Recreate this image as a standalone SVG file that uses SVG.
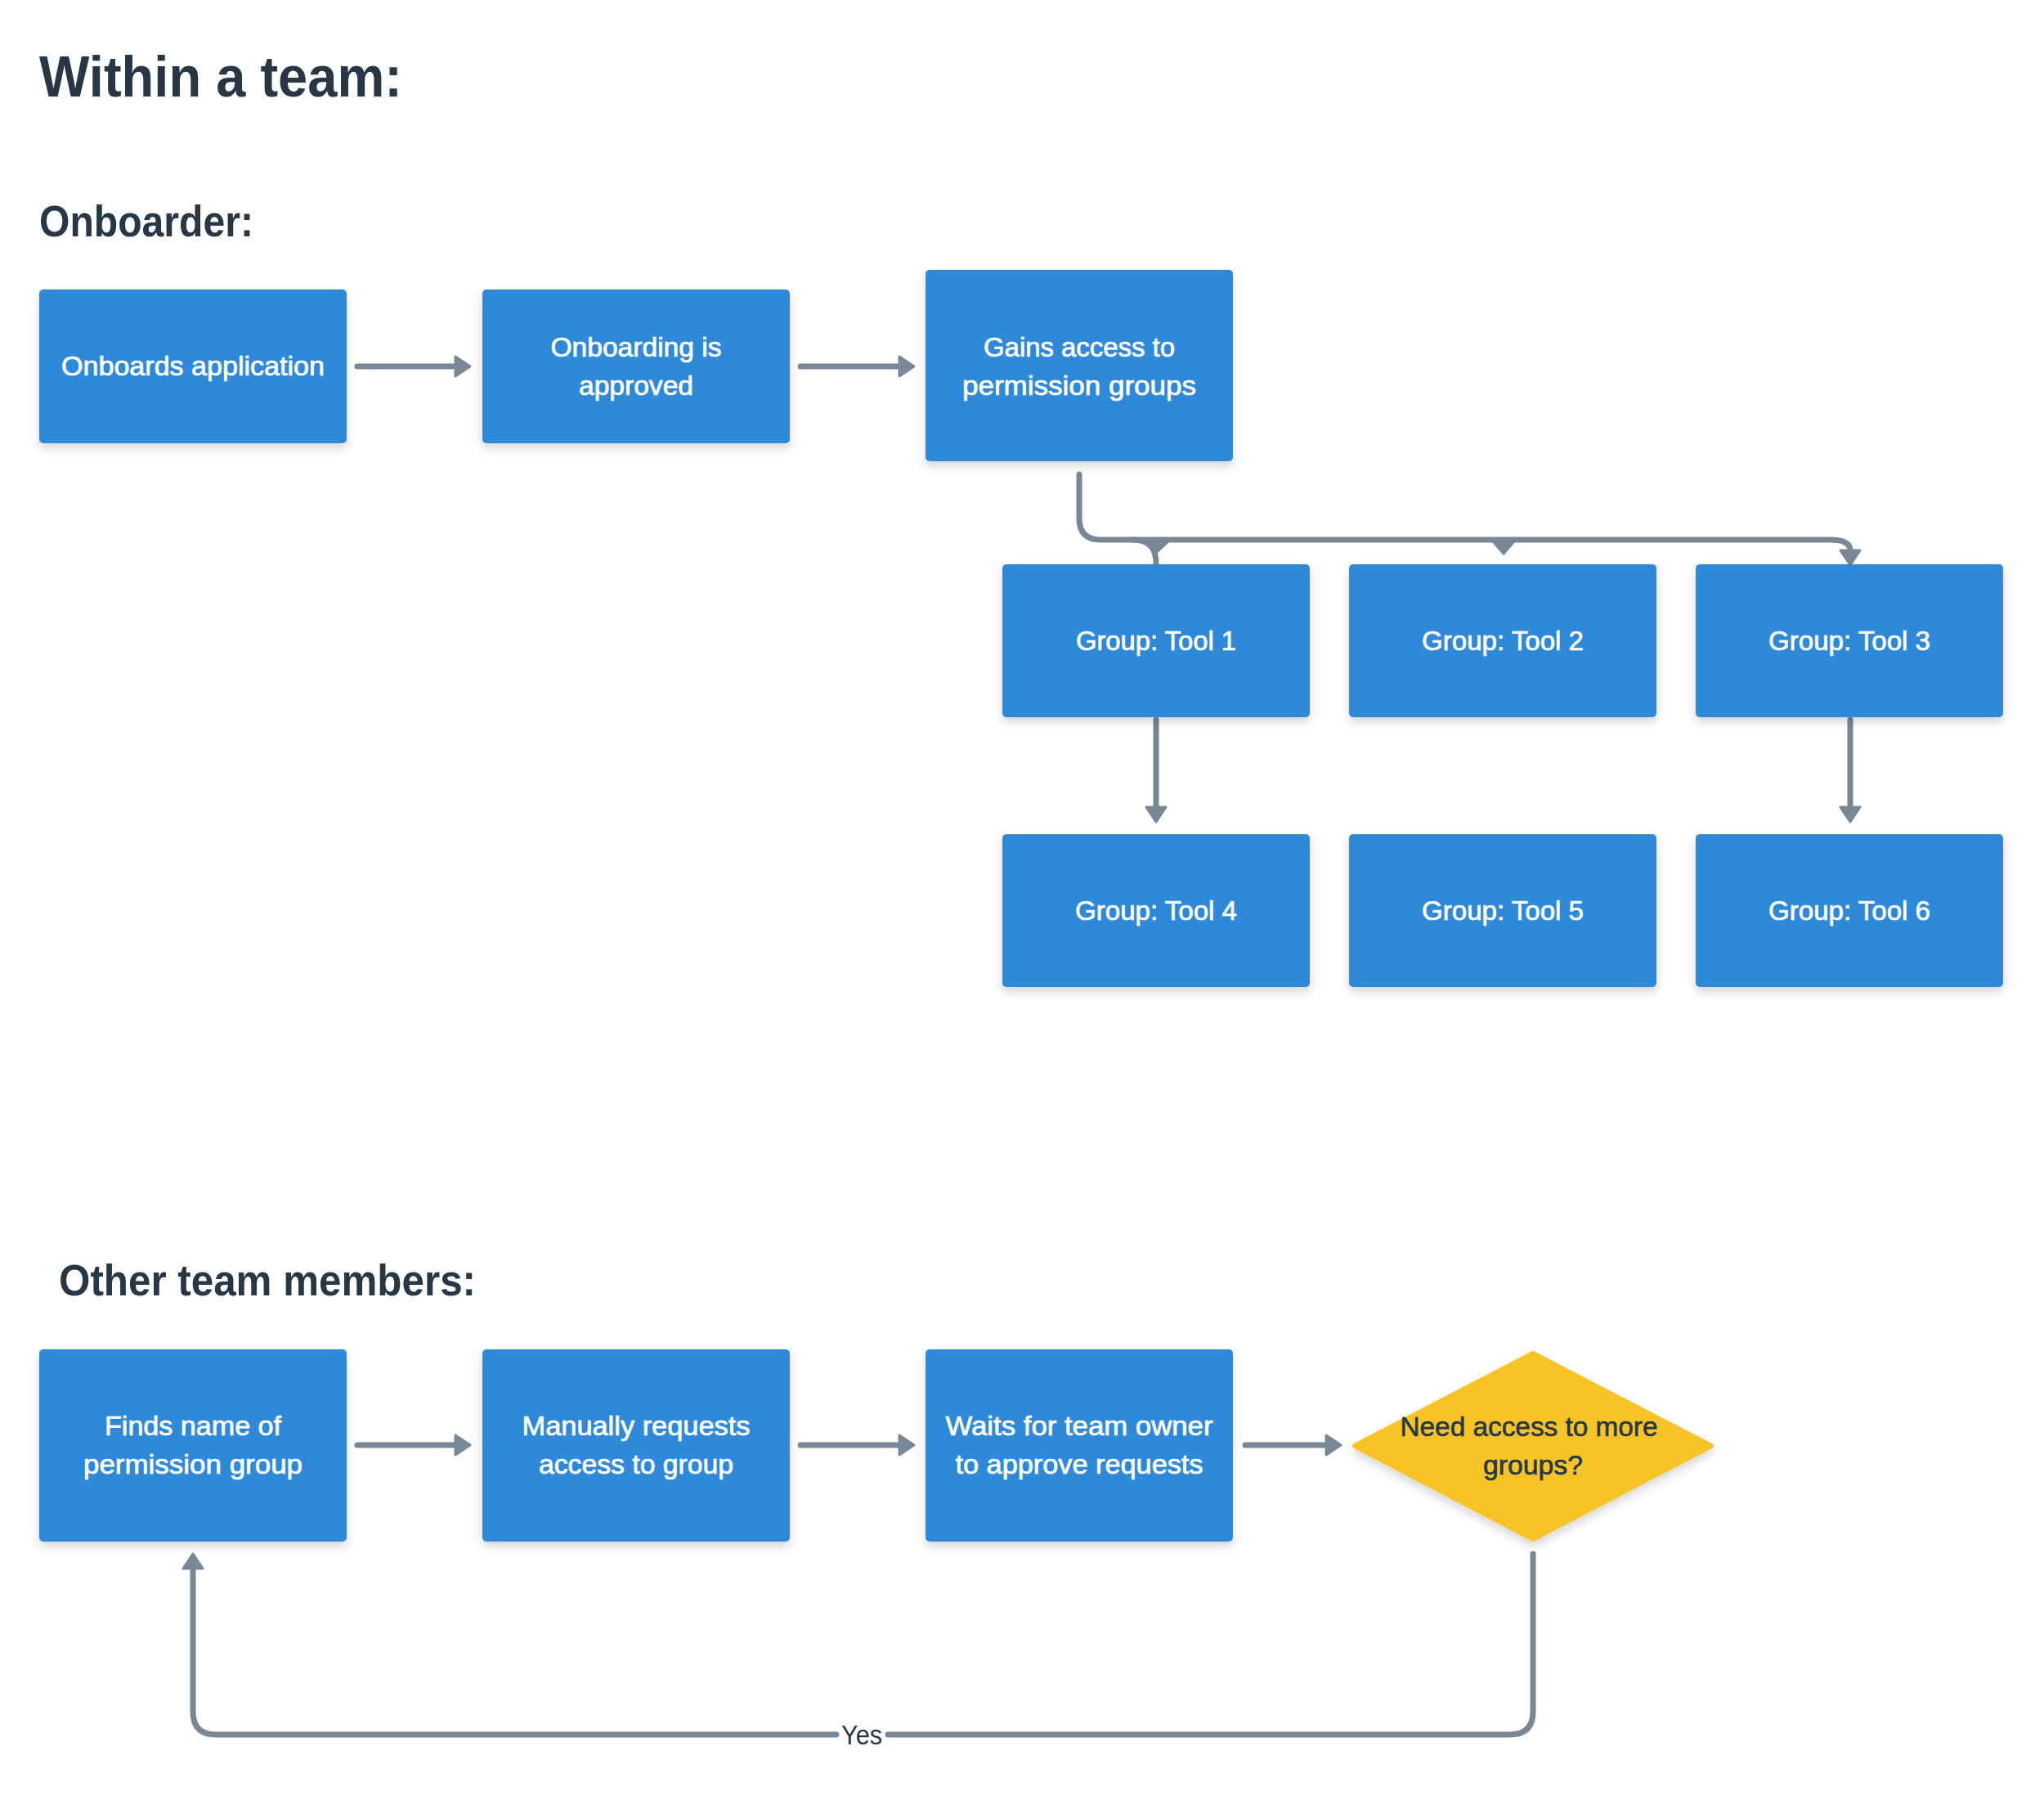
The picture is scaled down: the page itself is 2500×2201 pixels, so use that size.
<svg xmlns="http://www.w3.org/2000/svg" width="2500" height="2201" viewBox="0 0 2500 2201">
<style>
.heading{font-family:"Liberation Sans",Arial,sans-serif;font-weight:bold;fill:#273746}
.box{fill:#2E89D9;filter:url(#sh)}
.dia{fill:#F7C326;stroke:#F7C326;stroke-width:6;stroke-linejoin:round;filter:url(#sh)}
.lbl{font-family:"Liberation Sans",Arial,sans-serif;font-size:33px;fill:#ffffff;stroke:#ffffff;stroke-width:0.7;text-anchor:middle}
.dlbl{font-family:"Liberation Sans",Arial,sans-serif;font-size:33px;fill:#263746;stroke:#263746;stroke-width:0.6;text-anchor:middle}
.conn{fill:none;stroke:#798896;stroke-width:7;stroke-linecap:round;stroke-linejoin:round}
.arr{marker-end:url(#ah)}
.tri{fill:#798896;stroke:#798896;stroke-width:3;stroke-linejoin:round}
.elbl{font-family:"Liberation Sans",Arial,sans-serif;font-size:34px;fill:#263746;text-anchor:middle}
</style>
<defs>
<filter id="sh" x="-10%" y="-10%" width="120%" height="130%">
<feDropShadow dx="0" dy="6" stdDeviation="6" flood-color="#000000" flood-opacity="0.16"/>
</filter>
<marker id="ah" viewBox="-3 -15 25 30" refX="0" refY="0" markerWidth="25" markerHeight="30" markerUnits="userSpaceOnUse" orient="auto">
<path d="M0,-12 L18,0 L0,12 Z" fill="#798896" stroke="#798896" stroke-width="3" stroke-linejoin="round"/>
</marker>
</defs>
<rect width="2500" height="2201" fill="#ffffff"/>

<g id="titles">
<text class="heading" x="48" y="118" font-size="71" textLength="444" lengthAdjust="spacingAndGlyphs">Within a team:</text>
<text class="heading" x="48" y="289" font-size="53" textLength="262" lengthAdjust="spacingAndGlyphs">Onboarder:</text>
<text class="heading" x="72" y="1584" font-size="53" textLength="510" lengthAdjust="spacingAndGlyphs">Other team members:</text>
</g>

<g id="connectors">
<path class="conn arr" d="M437 448 H557"/>
<path class="conn arr" d="M979 448 H1100"/>
<path class="conn arr" d="M1320 580 V634 Q1320 660 1346 660 H2238 Q2263 660 2263 673"/>
<path class="conn" d="M1385 660 C1408 660 1414 672 1414 690"/>
<polygon class="tri" points="1398,662 1429,662 1414,676"/>
<polygon class="tri" points="1826,662 1852,662 1839,677"/>
<path class="conn arr" d="M1414 880 V987"/>
<path class="conn arr" d="M2263 880 V987"/>
<path class="conn arr" d="M437 1767 H557"/>
<path class="conn arr" d="M979 1767 H1100"/>
<path class="conn arr" d="M1523 1767 H1622"/>
<path class="conn arr" d="M1875 1900 V2093 Q1875 2121 1847 2121 H1086 M1023 2121 H264 Q236 2121 236 2093 V1918"/>
<text class="elbl" x="1054" y="2133" textLength="50" lengthAdjust="spacingAndGlyphs">Yes</text>
</g>

<g id="n1">
<rect class="box" x="48" y="354" width="376" height="188" rx="5"/>
<text class="lbl" x="236" y="459" textLength="322" lengthAdjust="spacingAndGlyphs">Onboards application</text>
</g>
<g id="n2">
<rect class="box" x="590" y="354" width="376" height="188" rx="5"/>
<text class="lbl" x="778" y="436" textLength="209" lengthAdjust="spacingAndGlyphs">Onboarding is</text>
<text class="lbl" x="778" y="483" textLength="140" lengthAdjust="spacingAndGlyphs">approved</text>
</g>
<g id="n3">
<rect class="box" x="1132" y="330" width="376" height="234" rx="5"/>
<text class="lbl" x="1320" y="436" textLength="234" lengthAdjust="spacingAndGlyphs">Gains access to</text>
<text class="lbl" x="1320" y="483" textLength="286" lengthAdjust="spacingAndGlyphs">permission groups</text>
</g>
<g id="t1">
<rect class="box" x="1226" y="690" width="376" height="187" rx="5"/>
<text class="lbl" x="1414" y="795" textLength="196" lengthAdjust="spacingAndGlyphs">Group: Tool 1</text>
</g>
<g id="t2">
<rect class="box" x="1650" y="690" width="376" height="187" rx="5"/>
<text class="lbl" x="1838" y="795" textLength="198" lengthAdjust="spacingAndGlyphs">Group: Tool 2</text>
</g>
<g id="t3">
<rect class="box" x="2074" y="690" width="376" height="187" rx="5"/>
<text class="lbl" x="2262" y="795" textLength="198" lengthAdjust="spacingAndGlyphs">Group: Tool 3</text>
</g>
<g id="t4">
<rect class="box" x="1226" y="1020" width="376" height="187" rx="5"/>
<text class="lbl" x="1414" y="1125" textLength="198" lengthAdjust="spacingAndGlyphs">Group: Tool 4</text>
</g>
<g id="t5">
<rect class="box" x="1650" y="1020" width="376" height="187" rx="5"/>
<text class="lbl" x="1838" y="1125" textLength="198" lengthAdjust="spacingAndGlyphs">Group: Tool 5</text>
</g>
<g id="t6">
<rect class="box" x="2074" y="1020" width="376" height="187" rx="5"/>
<text class="lbl" x="2262" y="1125" textLength="198" lengthAdjust="spacingAndGlyphs">Group: Tool 6</text>
</g>

<g id="b1">
<rect class="box" x="48" y="1650" width="376" height="235" rx="5"/>
<text class="lbl" x="236" y="1755" textLength="216" lengthAdjust="spacingAndGlyphs">Finds name of</text>
<text class="lbl" x="236" y="1802" textLength="268" lengthAdjust="spacingAndGlyphs">permission group</text>
</g>
<g id="b2">
<rect class="box" x="590" y="1650" width="376" height="235" rx="5"/>
<text class="lbl" x="778" y="1755" textLength="279" lengthAdjust="spacingAndGlyphs">Manually requests</text>
<text class="lbl" x="778" y="1802" textLength="238" lengthAdjust="spacingAndGlyphs">access to group</text>
</g>
<g id="b3">
<rect class="box" x="1132" y="1650" width="376" height="235" rx="5"/>
<text class="lbl" x="1320" y="1755" textLength="327" lengthAdjust="spacingAndGlyphs">Waits for team owner</text>
<text class="lbl" x="1320" y="1802" textLength="303" lengthAdjust="spacingAndGlyphs">to approve requests</text>
</g>
<g id="d1">
<polygon class="dia" points="1657,1768 1875,1655 2093,1768 1875,1882"/>
<text class="dlbl" x="1870" y="1756" textLength="315" lengthAdjust="spacingAndGlyphs">Need access to more</text>
<text class="dlbl" x="1875" y="1803" textLength="122" lengthAdjust="spacingAndGlyphs">groups?</text>
</g>
</svg>
